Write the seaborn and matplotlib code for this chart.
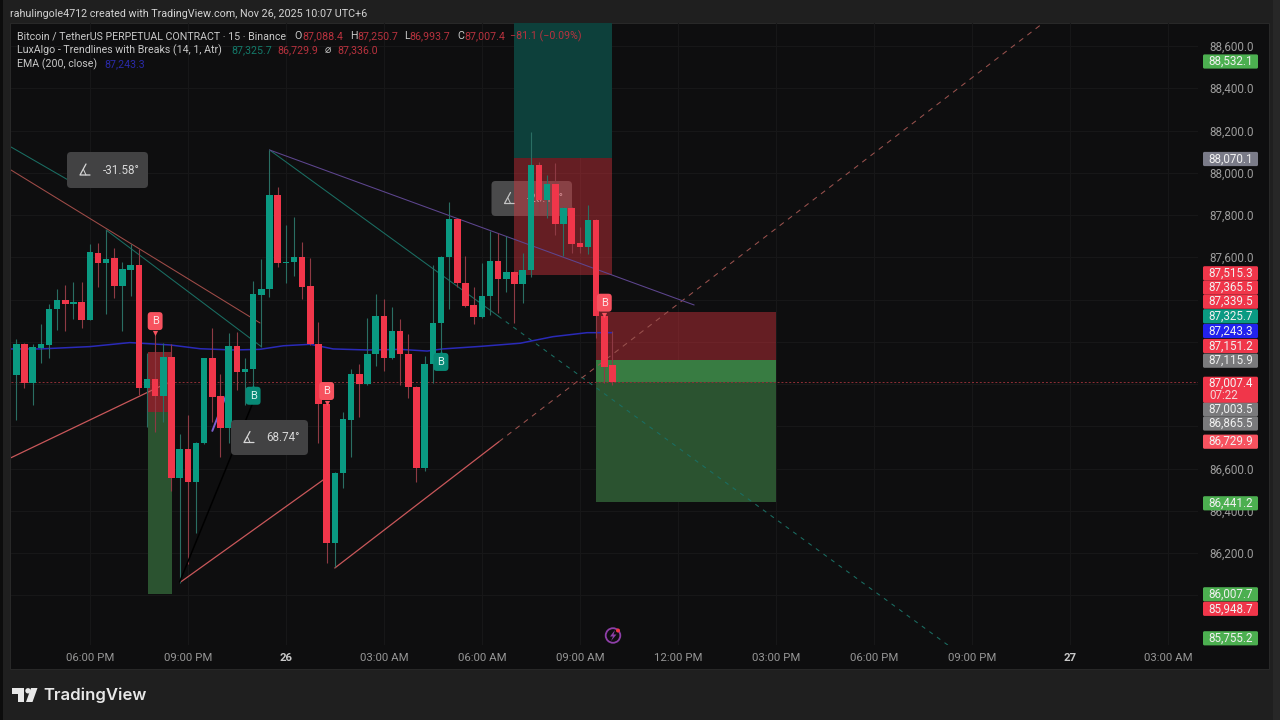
import matplotlib
matplotlib.use("Agg")
import matplotlib.pyplot as plt
import matplotlib.transforms as mtransforms
from matplotlib.patches import FancyBboxPatch, Rectangle, Circle, Polygon
import numpy as np
import pandas as pd
import seaborn as sns

# ---------- data ----------
opens = [87041,87189,87006,87170,87185,87354,87398,87377,87387,87304,87622,87574,87595,87465,87541,87563,86980,87022,86945,87129,
         86554,86692,86538,86719,87122,86943,86790,87181,87055,87072,87423,87448,87895,87574,87578,87600,87464,87189,86905,86246,
         86577,86830,87047,87001,87141,87323,87125,87249,87142,86987,86601,87093,87287,87600,87780,87477,87374,87317,87418,87582,
         87497,87530,87472,87538,88035,87871,87947,87757,87835,87666,87649,87776,87323,87088.4]
highs = [87213,87195,87189,87284,87379,87450,87469,87483,87484,87663,87669,87729,87644,87578,87663,87639,87147,87241,87194,87189,
         86763,86853,86725,87125,87265,87047,87243,87248,87123,87489,87592,88108,87934,87753,87792,87670,87596,87295,86910,86585,
         86869,87070,87095,87311,87425,87402,87363,87306,87237,86992,87134,87563,87605,87863,87786,87606,87458,87574,87725,87713,
         87701,87535,87619,88194,88052,87989,88045,87840,87840,87742,87847,87781,87328,87250.7]
lows = [86830,86981,86900,87101,87123,87256,87251,87309,87266,87302,87461,87331,87407,87252,87417,86948,86796,86774,86822,86495,
        86059,86148,86296,86715,86822,86656,86721,86972,86900,86987,87177,87413,87555,87478,87511,87402,87183,86721,86154,86132,
        86509,86656,86845,86995,87087,87062,87120,86995,86932,86538,86590,87003,87147,87354,87461,87366,87282,87312,87327,87335,
        87437,87287,87382,87508,87808,87784,87705,87606,87619,87619,87614,87216,87005,86993.7]
closes = [87189,87005,87174,87188,87355,87398,87377,87388,87304,87625,87574,87593,87465,87543,87563,86980,87024,86945,87129,86554,
          86692,86538,86719,87122,86940,86790,87181,87055,87072,87426,87448,87895,87574,87579,87600,87461,87189,86905,86246,86580,
          86833,87047,87001,87141,87323,87125,87249,87141,86986,86601,87093,87289,87600,87780,87477,87371,87317,87418,87582,87497,
          87530,87472,87538,88035,87871,87947,87757,87835,87663,87649,87776,87323,87082,87007.4]
bar_index = list(range(1, len(opens) + 1))

ema_index = [0.35,3.9,10,14.9,19.8,23.5,27.5,30.8,33.7,37,39.8,44,48,51.3,53.2,57.8,62.7,66.7,70.9,74]
ema_values = [87166,87166,87177,87196,87185,87167,87161,87164,87181,87188,87166,87161,87164,87156,87166,87178,87193,87224,87243,87243]
last_price = 87007.4

x_ticks = [10,22,34,46,58,70,82,94,106,118,130,142]
x_labels = ["06:00 PM","09:00 PM","26","03:00 AM","06:00 AM","09:00 AM","12:00 PM","03:00 PM","06:00 PM","09:00 PM","27","03:00 AM"]
y_ticks = [86000,86200,86400,86600,86800,87000,87200,87400,87600,87800,88000,88200,88400,88600]
y_hidden = [86000,86800,87000,87200,87400]  # covered by price tags in the reference

# trend drawings: (bar, price) pairs
teal_lines = [[(0.35,88122),(8.19,87947)], [(12,87729),(31,87177)], [(32,88108),(60,87322)]]
teal_dash = [(60,87322),(115.07,85764)]
red_lines = [[(0.35,88013),(30.84,87289)]]
red_rising = [[(0.35,86651),(19.8,87011)], [(21.17,86064),(38.9,86555)], [(40,86129),(60.1,86727)]]
red_dash = [(60.1,86727),(126.6,88705)]
purple_line = [(32,88108),(84,87374)]
violet_line = [(25,86778),(26.8,86957)]
black_line = [(21,86063),(30.7,86981)]

# position tools: bars from/to and price levels
box_left = dict(x0=17.07, x1=20.1, top=87151.2, mid=86865.5, bottom=86007.7)
box_mid = dict(x0=62, x1=74, top=88720, mid=88070.1, bottom=87515.3)
box_right = dict(x0=72, x1=94, top=87339.5, mid=87115.9, bottom=86441.2)

sell_marks = [18,39,73]
buy_marks = [30,53]

price_tags = ["88,532.1","88,070.1","87,515.3","87,365.5","87,339.5","87,325.7","87,243.3","87,151.2","87,115.9",
              "87,003.5","86,865.5","86,729.9","86,441.2","86,007.7","85,948.7","85,755.2"]
tag_rows = [61.5,159,273.3,287.5,301.7,316.3,331,346,360.7,409.3,423.5,441.7,503.3,594.3,608.8,638.3]
RED, GREEN, GRAY, LIME, CORAL, BLUE = "#F0364A","#0A9A82","#7A7A7C","#4CAF50","#F7525F","#2222EE"
tag_colors = [LIME,"#7A7B88",RED,RED,RED,GREEN,BLUE,RED,GRAY,GRAY,GRAY,CORAL,LIME,LIME,RED,LIME]

# ---------- style ----------
sns.set_theme(style="dark")
plt.rcParams["font.family"] = ["Roboto", "DejaVu Sans"]
BG, PANEL, GRID = "#1F1F1F", "#0E0E0F", "#171718"

fig = plt.figure(figsize=(12.8, 7.2), dpi=100, facecolor=BG)
px = mtransforms.Affine2D().scale(1, -1).translate(0, 720)
fig.patches.append(Rectangle((10, 22.7), 1259, 646, transform=px, fc=PANEL, ec="#292929", lw=0.7, zorder=-3))
fig.patches.append(Rectangle((0, 0), 2.5, 720, transform=px, fc="#0C0C0C", ec="none", zorder=-3))
fig.patches.append(Rectangle((1273, 0), 7, 720, transform=px, fc="#272727", ec="none", zorder=-3))

ax = fig.add_axes([10.5/1280, 1-645/720, (1198-10.5)/1280, (645-23)/720])
ax.patch.set_alpha(0)
ax.set_xlim((10.5-16.3)/8.167+1, (1198-16.3)/8.167+1)
ax.set_ylim(85764.5, 88708.9)
for s in ax.spines.values():
    s.set_visible(False)

ax.set_xticks(x_ticks)
ax.set_xticklabels(x_labels)
ax.set_yticks(y_ticks)
ax.set_yticklabels(["" if v in y_hidden else f"{v:,.1f}" for v in y_ticks])
ax.yaxis.tick_right()
ax.tick_params(axis="x", length=0, pad=6, labelsize=8.2, labelcolor="#969696")
ax.tick_params(axis="y", length=0, pad=8.2, labelsize=8.4, labelcolor="#9C9C9C")
for lb in ax.get_xticklabels():
    if lb.get_text() in ("26", "27"):
        lb.set_fontweight("bold")
        lb.set_color("#C8C8C8")
ax.grid(True, color=GRID, lw=0.8, zorder=0)
ax.set_axisbelow(True)

def span(b, y0, y1, color, alpha=1.0, z=1.5):
    ax.add_patch(Rectangle((b["x0"], y0), b["x1"]-b["x0"], y1-y0, fc=color, ec="none", alpha=alpha, zorder=z))

# measurement tooltips
def tooltip(x, y, w, h, label, z, tc="#D8D8D8", fc="#424243"):
    ax.add_patch(FancyBboxPatch((x, y), w, h, boxstyle="round,pad=0,rounding_size=4", transform=px,
                                fc=fc, ec="none", clip_on=False, zorder=z))
    ix, iy = x+13, y+h/2
    ax.plot([ix+6, ix, ix+10], [iy-6, iy+5, iy+5], transform=px, color=tc, lw=0.9, zorder=z+0.1)
    ax.plot([ix+3.5, ix+6], [iy-0.5, iy+5], transform=px, color=tc, lw=0.7, zorder=z+0.1)
    ax.text(x+w-8, iy, label, transform=px, color=tc, fontsize=8.4, ha="right", va="center", zorder=z+0.1)

tooltip(491.5, 181, 80.5, 35, "-20.11°", 1.0, "#C4C4C4", "#4A4A4B")

# position tool fills
span(box_left, box_left["mid"], box_left["top"], "#E0353F", 0.55)
span(box_left, box_left["bottom"], box_left["mid"], "#2B5330")
span(box_mid, box_mid["mid"], box_mid["top"], "#0D403B")
span(box_mid, box_mid["bottom"], box_mid["mid"], "#E0353F", 0.42)
span(box_right, box_right["mid"], box_right["top"], "#E0353F", 0.42)
span(box_right, last_price, box_right["mid"], "#387C42")
span(box_right, box_right["bottom"], last_price, "#2B5330")

# trend lines
def seg(points, color, lw=1.0, dashes=None, z=2):
    frame = pd.DataFrame(points, columns=["bar", "price"])
    line = sns.lineplot(data=frame, x="bar", y="price", ax=ax, color=color, lw=lw, estimator=None, sort=False, zorder=z)
    if dashes:
        line.lines[-1].set_dashes(dashes)

for pts in teal_lines:
    seg(pts, "#1A6E63", 0.75)
seg(teal_dash, "#1A6E63", 0.75, (4, 5))
for pts in red_lines:
    seg(pts, "#A04C48", 0.75)
for pts in red_rising:
    seg(pts, "#C9575A", 0.9)
seg(red_dash, "#9A524E", 0.75, (5, 5))
seg(purple_line, "#5E4690", 0.75)
seg(violet_line, "#7B5FD0", 1.4)
seg(black_line, "#000000", 1.1, z=4.5)

sns.lineplot(x=ema_index, y=ema_values, ax=ax, color="#2A2AB8", lw=1.1, estimator=None, sort=False, zorder=2.4)
ax.axhline(last_price, color="#8E2E36", lw=0.7, ls=(0, (2, 2)), zorder=2.2)

# candles
candles = pd.DataFrame(dict(bar=bar_index, o=opens, h=highs, l=lows, c=closes))
up = candles.c >= candles.o
for mask, body, wick in ((up, GREEN, "#2A6E63"), (~up, RED, "#8E3A44")):
    part = candles[mask]
    ax.vlines(part.bar, part.l, part.h, color=wick, lw=0.8, zorder=3)
    ax.bar(part.bar, (part.c-part.o).abs(), bottom=part[["o", "c"]].min(axis=1), width=0.8, color=body, lw=0, zorder=3.2)

# break markers
for i in sell_marks:
    price = highs[i-1]
    ax.scatter([i], [price], marker="v", s=14, color=CORAL, lw=0, zorder=5)
    ax.annotate("B", (i, price), xytext=(0, 12), textcoords="offset pixels", ha="center", va="center", color="#FBE4E4",
                fontsize=8, zorder=5, bbox=dict(boxstyle="round,pad=0.36,rounding_size=0.3", fc=CORAL, ec="none"))
for i in buy_marks:
    price = lows[i-1]
    ax.scatter([i], [price], marker="^", s=14, color="#088A76", lw=0, zorder=5)
    ax.annotate("B", (i, price), xytext=(0, -9), textcoords="offset pixels", ha="center", va="center", color="#D8F3EE",
                fontsize=8, zorder=5, bbox=dict(boxstyle="round,pad=0.36,rounding_size=0.3", fc="#088A76", ec="none"))

tooltip(67, 152, 81, 36, "-31.58°", 6)
tooltip(231, 420, 77, 35, "68.74°", 6)

# price tags
def tag(y0, h, color):
    ax.add_patch(FancyBboxPatch((1203, y0), 55, h, boxstyle="round,pad=0,rounding_size=1.5", transform=px,
                                fc=color, ec="none", clip_on=False, zorder=7))

for text, row, color in zip(price_tags, tag_rows, tag_colors):
    tag(row-7.1, 14.2, color)
    ax.text(1231, row, text, transform=px, color="#F0F0F0", fontsize=8.4, ha="center", va="center", zorder=8, clip_on=False)
tag(376.7, 26, RED)
ax.text(1231, 383.5, f"{last_price:,.1f}", transform=px, color="#F4F4F4", fontsize=8.4, ha="center", va="center", zorder=8)
ax.text(1209.5, 395.5, "07:22", transform=px, color="#F4D8DA", fontsize=8.4, ha="left", va="center", zorder=8)

# lightning icon
ax.add_patch(Circle((613, 635.5), 7.3, transform=px, fc="none", ec="#8E3FA8", lw=1.3, clip_on=False, zorder=6))
ax.add_patch(Polygon([(615,630),(610,636.5),(613,636.5),(611,641),(616.5,634.5),(613.5,634.5)], transform=px, fc="#8E3FA8", ec="none", zorder=6))
ax.add_patch(Circle((618, 630.5), 2, transform=px, fc="#F0364A", ec="none", clip_on=False, zorder=6.1))

ax.set_xlabel("")
ax.set_ylabel("")

# header and legend text
def put(x, y, text, color="#C8C8C8", size=7.7, **kw):
    fig.text(x/1280, 1-y/720, text, color=color, fontsize=size, va="center", ha="left", **kw)

LEG_RED, LEG_TEAL, LEG_BLUE = "#B8323E", "#137A6A", "#2A2AA8"
put(10, 14, "rahulingole4712 created with TradingView.com, Nov 26, 2025 10:07 UTC+6", "#D4D4D4", 7.75)
put(17, 36, "Bitcoin / TetherUS PERPETUAL CONTRACT · 15 · Binance")
for x, t, c in [(294,"O","#C8C8C8"),(302,"87,088.4",LEG_RED),(350,"H","#C8C8C8"),(357,"87,250.7",LEG_RED),(404,"L","#C8C8C8"),
                (409.5,"86,993.7",LEG_RED),(457,"C","#C8C8C8"),(464,"87,007.4",LEG_RED),(510,"−81.1 (−0.09%)",LEG_RED)]:
    put(x, 36, t, c)
put(17, 50, "LuxAlgo - Trendlines with Breaks (14, 1, Atr)")
for x, t, c in [(231,"87,325.7",LEG_TEAL),(277,"86,729.9",LEG_RED),(325,"⌀","#C8C8C8"),(337.5,"87,336.0",LEG_RED)]:
    put(x, 50, t, c)
put(17, 64, "EMA (200, close)")
put(104.5, 64, "87,243.3", LEG_BLUE)

# TradingView logo
for poly in ([(12,688),(24,688),(24,702),(18,702),(18,693.5),(12,693.5)], [(31,688),(37.5,688),(32.5,702),(26,702)]):
    fig.patches.append(Polygon(poly, transform=px, fc="#E8E8E8", ec="none"))
fig.patches.append(Circle((28, 690.8), 2.7, transform=px, fc="#E8E8E8", ec="none"))
put(43.5, 695, "TradingView", "#E8E8E8", 12.0, fontweight="semibold", family="Inter")

fig.savefig("out.png", dpi=100, facecolor=BG)
